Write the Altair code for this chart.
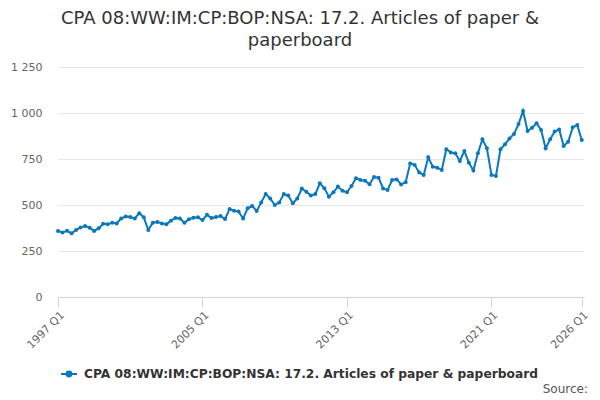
import altair as alt
import pandas as pd

series_name = "CPA 08:WW:IM:CP:BOP:NSA: 17.2. Articles of paper & paperboard"
start_year = 1997
values = [
    359, 351, 360, 346, 364, 378, 386, 377, 359, 373,
    398, 395, 404, 400, 427, 437, 435, 427, 455, 433,
    364, 404, 408, 400, 395, 415, 429, 427, 404, 422,
    431, 433, 418, 447, 429, 435, 440, 424, 478, 469,
    464, 427, 482, 495, 467, 513, 560, 536, 500, 513,
    560, 551, 509, 536, 589, 572, 551, 560, 618, 591,
    545, 569, 600, 578, 569, 603, 645, 636, 632, 613,
    652, 648, 590, 581, 636, 639, 612, 623, 726, 717,
    676, 663, 759, 708, 703, 690, 803, 786, 781, 739,
    793, 730, 687, 781, 857, 808, 663, 658, 803, 830,
    862, 886, 940, 1011, 902, 920, 944, 908, 808, 857,
    899, 911, 821, 844, 922, 935, 853,
]
quarters = [f"{start_year + i // 4} Q{i % 4 + 1}" for i in range(len(values))]
tick_index = [0, 32, 64, 96, 116]
y_ticks = [0, 250, 500, 750, 1000, 1250]

df = pd.DataFrame({
    "idx": list(range(len(values))),
    "quarter": quarters,
    "value": values,
    "series": [series_name] * len(values),
})

FONT = "DejaVu Sans"
BLUE = "#0b78bd"

legend_symbol = "M-1,0L1,0M-0.3,0A0.3,0.3 0 1,0 0.3,0A0.3,0.3 0 1,0 -0.3,0Z"

line = alt.Chart(df).mark_line(
    strokeWidth=2,
    point=alt.OverlayMarkDef(size=16, filled=True, color=BLUE),
).encode(
    x=alt.X(
        "idx:Q",
        scale=alt.Scale(domain=[0, 116.5], nice=False, zero=False),
        axis=alt.Axis(
            title=None,
            values=tick_index,
            labelExpr="toString(1997 + floor(datum.value / 4)) + ' Q' + toString(datum.value % 4 + 1)",
            labelAngle=315,
            labelAlign="right",
            labelBaseline="top",
            labelFont=FONT,
            labelFontSize=11,
            labelColor="#666666",
            labelPadding=2,
            labelOverlap=False,
            labelFlush=False,
            domainColor="#ccd6eb",
            tickColor="#ccd6eb",
            tickSize=10,
            grid=False,
        ),
    ),
    y=alt.Y(
        "value:Q",
        scale=alt.Scale(domain=[0, 1250], nice=False),
        axis=alt.Axis(
            title=None,
            values=y_ticks,
            labelExpr="replace(format(datum.value, ','), ',', ' ')",
            labelFont=FONT,
            labelFontSize=11,
            labelColor="#666666",
            labelPadding=16,
            domain=False,
            ticks=False,
            gridColor="#e6e6e6",
            gridWidth=1,
        ),
    ),
    color=alt.Color(
        "series:N",
        scale=alt.Scale(range=[BLUE]),
        legend=alt.Legend(
            title=None,
            orient="none",
            legendX=2,
            legendY=298,
            symbolType=legend_symbol,
            symbolSize=256,
            symbolStrokeWidth=2,
            symbolFillColor=BLUE,
            symbolStrokeColor=BLUE,
            labelFont=FONT,
            labelFontSize=12.25,
            labelFontWeight="bold",
            labelColor="#333333",
            labelOffset=6,
            labelLimit=600,
        ),
    ),
)

source = alt.Chart(pd.DataFrame({"t": ["Source:"]})).mark_text(
    align="right", baseline="middle", font=FONT, fontSize=12, color="#555555"
).encode(
    text="t:N",
    x=alt.value(530),
    y=alt.value(322),
)

chart = alt.layer(line, source).properties(
    width=526,
    height=230,
    autosize=alt.AutoSizeParams(type="none"),
    padding={"left": 50, "top": 59, "right": 8, "bottom": 101},
    title=alt.TitleParams(
        text=["CPA 08:WW:IM:CP:BOP:NSA: 17.2. Articles of paper &", "paperboard"],
        font=FONT,
        fontSize=18,
        fontWeight="normal",
        color="#333333",
        anchor="middle",
        dx=-21,
        offset=11,
        lineHeight=22,
    ),
).configure_view(stroke=None)

chart.save("out.html", embed_options={"renderer": "svg", "actions": False})
